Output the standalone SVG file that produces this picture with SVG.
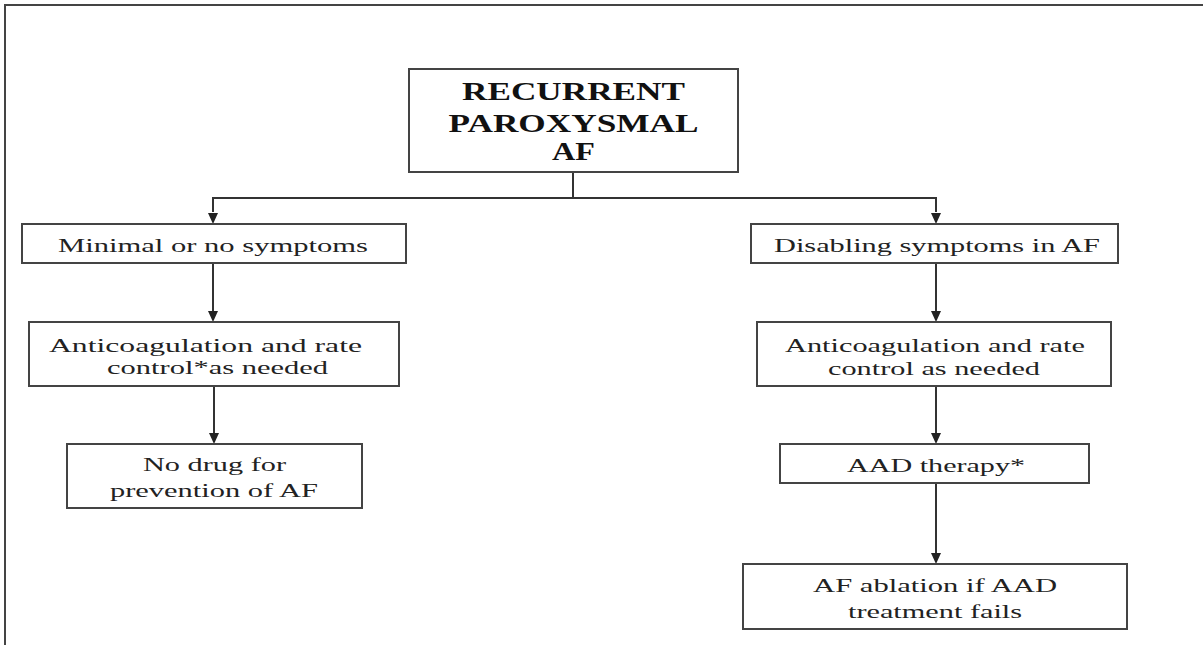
<svg xmlns="http://www.w3.org/2000/svg" width="1203" height="645" viewBox="0 0 1203 645">
<style>
.box{fill:#fff;stroke:#444;stroke-width:2}
.t{font-family:"Liberation Serif","Times New Roman",serif;font-size:19px;fill:#222;text-anchor:middle}
.tb{font-family:"Liberation Serif","Times New Roman",serif;font-size:25px;font-weight:bold;fill:#111;text-anchor:middle}
.ln{fill:none;stroke:#333;stroke-width:2}
.ah{fill:#222}
</style>
<rect width="1203" height="645" fill="#fff"/>
<path d="M5,645 V5 H1203" fill="none" stroke="#444" stroke-width="2"/>
<g id="connectors">
<path class="ln" d="M573,172 V198"/>
<path class="ln" d="M213,212 V198 H936 V212"/>
<polygon class="ah" points="208,213 218,213 213,224"/>
<polygon class="ah" points="931,213 941,213 936,224"/>
<path class="ln" d="M213,263 V311"/>
<polygon class="ah" points="208,311 218,311 213,322"/>
<path class="ln" d="M214,386 V433"/>
<polygon class="ah" points="209,433 219,433 214,444"/>
<path class="ln" d="M936,263 V311"/>
<polygon class="ah" points="931,311 941,311 936,322"/>
<path class="ln" d="M936,386 V433"/>
<polygon class="ah" points="931,433 941,433 936,444"/>
<path class="ln" d="M936,483 V553"/>
<polygon class="ah" points="931,553 941,553 936,564"/>
</g>
<g id="root">
<rect class="box" x="409" y="69" width="329" height="103"/>
<text class="tb" transform="translate(573.5,100) scale(1.3,1)" textLength="171.5" lengthAdjust="spacingAndGlyphs">RECURRENT</text>
<text class="tb" transform="translate(573.5,132) scale(1.3,1)" textLength="192.3" lengthAdjust="spacingAndGlyphs">PAROXYSMAL</text>
<text class="tb" transform="translate(573.5,160) scale(1.3,1)" textLength="33" lengthAdjust="spacingAndGlyphs">AF</text>
</g>
<g id="minimal">
<rect class="box" x="22" y="224" width="384" height="39"/>
<text class="t" transform="translate(213,252) scale(1.55,1)" textLength="200" lengthAdjust="spacingAndGlyphs">Minimal or no symptoms</text>
</g>
<g id="anticoag-left">
<rect class="box" x="29" y="322" width="370" height="64"/>
<text class="t" transform="translate(205.5,352) scale(1.55,1)" textLength="202" lengthAdjust="spacingAndGlyphs">Anticoagulation and rate</text>
<text class="t" transform="translate(217.5,374) scale(1.55,1)" textLength="142.6" lengthAdjust="spacingAndGlyphs">control*as needed</text>
</g>
<g id="nodrug">
<rect class="box" x="67" y="444" width="295" height="64"/>
<text class="t" transform="translate(214.5,471) scale(1.55,1)" textLength="92.3" lengthAdjust="spacingAndGlyphs">No drug for</text>
<text class="t" transform="translate(214,497) scale(1.55,1)" textLength="134.2" lengthAdjust="spacingAndGlyphs">prevention of AF</text>
</g>
<g id="disabling">
<rect class="box" x="751" y="224" width="367" height="39"/>
<text class="t" transform="translate(937,252) scale(1.55,1)" textLength="210.3" lengthAdjust="spacingAndGlyphs">Disabling symptoms in AF</text>
</g>
<g id="anticoag-right">
<rect class="box" x="757" y="322" width="354" height="64"/>
<text class="t" transform="translate(935,352) scale(1.55,1)" textLength="193.5" lengthAdjust="spacingAndGlyphs">Anticoagulation and rate</text>
<text class="t" transform="translate(934,375) scale(1.55,1)" textLength="136.8" lengthAdjust="spacingAndGlyphs">control as needed</text>
</g>
<g id="aad">
<rect class="box" x="780" y="444" width="309" height="39"/>
<text class="t" transform="translate(936,472) scale(1.55,1)" textLength="114.8" lengthAdjust="spacingAndGlyphs">AAD therapy*</text>
</g>
<g id="ablation">
<rect class="box" x="743" y="564" width="384" height="65"/>
<text class="t" transform="translate(935,592) scale(1.55,1)" textLength="157.4" lengthAdjust="spacingAndGlyphs">AF ablation if AAD</text>
<text class="t" transform="translate(935,618) scale(1.55,1)" textLength="112.3" lengthAdjust="spacingAndGlyphs">treatment fails</text>
</g>
</svg>
